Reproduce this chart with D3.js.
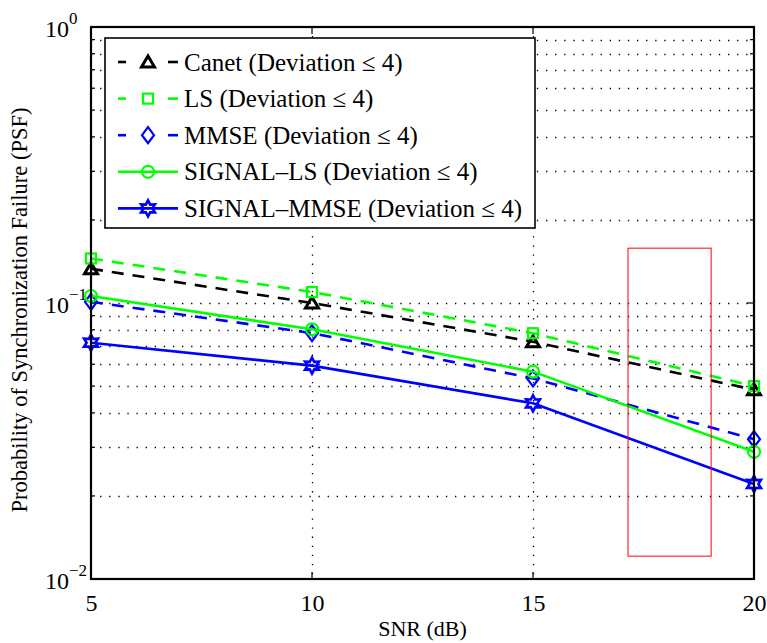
<!DOCTYPE html>
<html>
<head>
<meta charset="utf-8">
<script src="https://cdn.jsdelivr.net/npm/d3@7"></script>
<style>
  body { margin: 0; background: #fff; }
  text { font-family: "Liberation Serif", "Times New Roman", serif; fill: #000; }
</style>
</head>
<body>
<div id="container"></div>
<script>
// data
var snr = [5, 10, 15, 20];
var canet = [0.133, 0.100, 0.0724, 0.0485];
var ls = [0.145, 0.1096, 0.0777, 0.0500];
var mmse = [0.101, 0.0778, 0.0533, 0.0321];
var signalLs = [0.106, 0.0803, 0.0564, 0.0289];
var signalMmse = [0.0718, 0.0593, 0.0433, 0.0221];

var seriesNames = ["Canet (Deviation \u2264 4)", "LS (Deviation \u2264 4)", "MMSE (Deviation \u2264 4)",
                   "SIGNAL\u2013LS (Deviation \u2264 4)", "SIGNAL\u2013MMSE (Deviation \u2264 4)"];
var xTicks = [5, 10, 15, 20];
var yDecades = [0.01, 0.1, 1];
var yExponents = ["\u22122", "\u22121", "0"];

// highlighted region (red box)
var boxSnr = [17.15, 19.03];
var boxPsf = [0.0121, 0.158];

var totalWidth = 767, totalHeight = 643;
var margin = {top: 27, right: 13, bottom: 64, left: 91},
    width = totalWidth - margin.left - margin.right,
    height = totalHeight - margin.top - margin.bottom;

var xScale = d3.scaleLinear().domain([5, 20]).range([0, width]);
var yScale = d3.scaleLog().domain([0.01, 1]).range([height, 0]);

var svg = d3.select("#container")
            .append("svg")
            .attr("width", totalWidth)
            .attr("height", totalHeight)
            .append("g")
            .attr("transform", "translate(" + margin.left + "," + margin.top + ")");

// minor + major y values
var yGrid = [];
[0.01, 0.1].forEach(function(d) {
  for (var k = 1; k <= 9; k++) yGrid.push(d * k);
});
yGrid.push(1);

// dotted grid
var grid = svg.append("g").attr("class", "grid")
              .attr("stroke", "#000").attr("stroke-width", 1.3)
              .attr("stroke-dasharray", "1.3,7.8");
grid.selectAll(".hg").data(yGrid.filter(function(d) { return d > 0.0101 && d < 0.99; }))
    .enter().append("line")
    .attr("x1", 0).attr("x2", width)
    .attr("y1", function(d) { return Math.round(yScale(d)) + 0.5; })
    .attr("y2", function(d) { return Math.round(yScale(d)) + 0.5; });
grid.selectAll(".vg").data([10, 15]).enter().append("line")
    .attr("x1", function(d) { return Math.round(xScale(d)) + 0.5; })
    .attr("x2", function(d) { return Math.round(xScale(d)) + 0.5; })
    .attr("y1", 0).attr("y2", height);

// ticks (inward)
var ticks = svg.append("g").attr("stroke", "#000").attr("stroke-width", 1.2);
yGrid.forEach(function(d) {
  var major = yDecades.some(function(v) { return Math.abs(v - d) < 1e-9; });
  var len = major ? 7 : 4;
  var y = yScale(d);
  ticks.append("line").attr("x1", 0).attr("x2", len).attr("y1", y).attr("y2", y);
  ticks.append("line").attr("x1", width).attr("x2", width - len).attr("y1", y).attr("y2", y);
});
[10, 15].forEach(function(d) {
  var x = xScale(d);
  ticks.append("line").attr("x1", x).attr("x2", x).attr("y1", height).attr("y2", height - 7);
  ticks.append("line").attr("x1", x).attr("x2", x).attr("y1", 0).attr("y2", 7);
});

// x axis labels
var xAxis = d3.axisBottom(xScale).tickValues(xTicks).tickSize(0).tickPadding(15);
var gx = svg.append("g").attr("transform", "translate(0," + height + ")").call(xAxis);
gx.select(".domain").remove();
gx.selectAll("text").attr("font-size", 24).attr("font-family", "Liberation Serif").attr("fill", "#000");

// y axis labels 10^n
var yLab = svg.append("g").attr("class", "y-labels");
yDecades.forEach(function(d, i) {
  var t = yLab.append("text")
              .attr("x", -46).attr("y", yScale(d) + 10)
              .attr("font-size", 24)
              .attr("text-anchor", "start");
  t.append("tspan").text("10");
  t.append("tspan").attr("dy", -13).attr("font-size", 17).text(yExponents[i]);
});

// axis titles
svg.append("text")
   .attr("x", width / 2).attr("y", height + 57)
   .attr("text-anchor", "middle").attr("font-size", 22)
   .text("SNR (dB)");
svg.append("text")
   .attr("transform", "translate(" + (-64) + "," + (height / 2 + 7) + ") rotate(-90)")
   .attr("text-anchor", "middle").attr("font-size", 22.5)
   .text("Probability of Synchronization Failure (PSF)");

// series
var series = [
  {name: seriesNames[0], values: canet, color: "#000000", dashed: true, marker: "triangle"},
  {name: seriesNames[1], values: ls, color: "#00ff00", dashed: true, marker: "square"},
  {name: seriesNames[2], values: mmse, color: "#0000ff", dashed: true, marker: "diamond"},
  {name: seriesNames[3], values: signalLs, color: "#00ff00", dashed: false, marker: "circle"},
  {name: seriesNames[4], values: signalMmse, color: "#0000ff", dashed: false, marker: "hexagram"}
];

function drawMarker(g, type, color) {
  var m;
  if (type === "triangle") {
    m = g.append("path").attr("d", "M0,-6L6.5,5L-6.5,5Z").attr("stroke-width", 3);
  } else if (type === "square") {
    m = g.append("rect").attr("x", -5).attr("y", -5).attr("width", 10).attr("height", 10).attr("stroke-width", 2.2);
  } else if (type === "diamond") {
    m = g.append("path").attr("d", "M0,-8L6,0L0,8L-6,0Z").attr("stroke-width", 2.2);
  } else if (type === "circle") {
    m = g.append("circle").attr("r", 6).attr("stroke-width", 2.2);
  } else {
    var pts = [];
    for (var k = 0; k < 12; k++) {
      var r = k % 2 === 0 ? 8 : 4.4;
      var a = -Math.PI / 2 + k * Math.PI / 6;
      pts.push([r * Math.cos(a), r * Math.sin(a)]);
    }
    m = g.append("path").attr("d", "M" + pts.join("L") + "Z").attr("stroke-width", 2.6);
  }
  m.attr("fill", "none").attr("stroke", color);
}

var line = d3.line()
             .x(function(d, i) { return xScale(snr[i]); })
             .y(function(d) { return yScale(d); });

var plot = svg.append("g").attr("class", "series");
series.forEach(function(s) {
  plot.append("path")
      .attr("d", line(s.values))
      .attr("fill", "none")
      .attr("stroke", s.color)
      .attr("stroke-width", 2.6)
      .attr("stroke-dasharray", s.dashed ? "12,9" : null);
  s.values.forEach(function(v, i) {
    var g = plot.append("g").attr("transform", "translate(" + xScale(snr[i]) + "," + yScale(v) + ")");
    drawMarker(g, s.marker, s.color);
  });
});

// red box
svg.append("rect")
   .attr("x", xScale(boxSnr[0])).attr("y", yScale(boxPsf[1]))
   .attr("width", xScale(boxSnr[1]) - xScale(boxSnr[0]))
   .attr("height", yScale(boxPsf[0]) - yScale(boxPsf[1]))
   .attr("fill", "none").attr("stroke", "#ff0000").attr("stroke-width", 1);

// frame
svg.append("rect")
   .attr("x", 0).attr("y", 0).attr("width", width).attr("height", height)
   .attr("fill", "none").attr("stroke", "#000").attr("stroke-width", 2.2);

// legend
var legendWrap = svg.append("g").attr("transform", "translate(14,11)");
legendWrap.append("rect")
          .attr("x", 0).attr("y", 0).attr("width", 430).attr("height", 190)
          .attr("fill", "#fff").attr("stroke", "#000").attr("stroke-width", 1.6);
series.forEach(function(s, i) {
  var row = legendWrap.append("g").attr("transform", "translate(0," + (24 + i * 36.6) + ")");
  if (s.dashed) {
    row.append("line").attr("x1", 13).attr("x2", 21).attr("y1", 0).attr("y2", 0)
       .attr("stroke", s.color).attr("stroke-width", 2.6);
    row.append("line").attr("x1", 63).attr("x2", 73).attr("y1", 0).attr("y2", 0)
       .attr("stroke", s.color).attr("stroke-width", 2.6);
  } else {
    row.append("line").attr("x1", 13).attr("x2", 73).attr("y1", 0).attr("y2", 0)
       .attr("stroke", s.color).attr("stroke-width", 2.6);
  }
  drawMarker(row.append("g").attr("transform", "translate(43,0)"), s.marker, s.color);
  row.append("text").attr("x", 79).attr("y", 8.5).attr("font-size", 25).text(s.name);
});
</script>
</body>
</html>
